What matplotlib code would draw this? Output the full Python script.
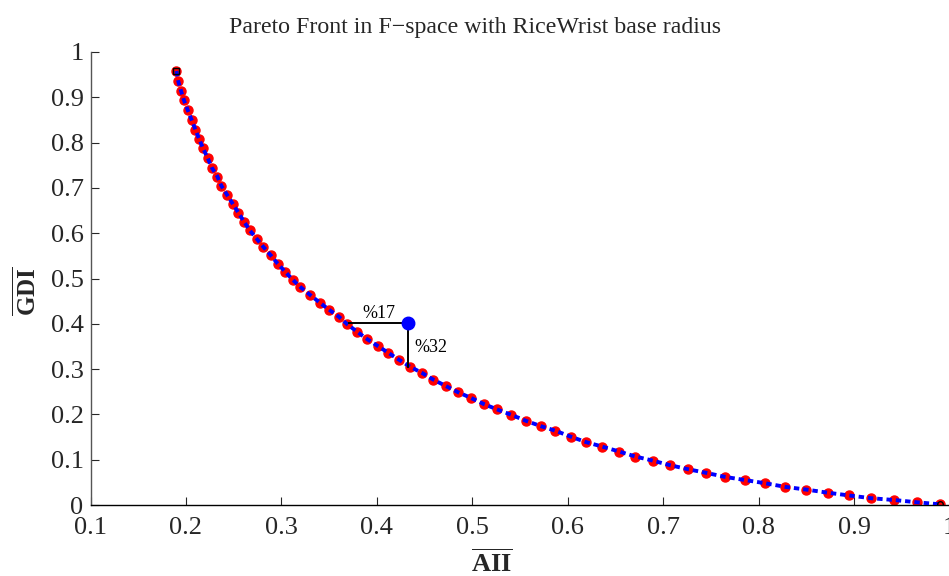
import numpy as np
import matplotlib
matplotlib.use("Agg")
import matplotlib.pyplot as plt

plt.rcParams['font.family'] = ['Liberation Serif', 'DejaVu Serif']
plt.rcParams['mathtext.fontset'] = 'custom'
plt.rcParams['mathtext.rm'] = 'Liberation Serif'
plt.rcParams['mathtext.bf'] = 'Liberation Serif:bold'

# Pareto front points (AII, GDI)
aii = [0.190, 0.192, 0.195, 0.198, 0.202, 0.206, 0.210, 0.214, 0.218, 0.223,
       0.227, 0.233, 0.237, 0.243, 0.249, 0.255, 0.261, 0.267, 0.274, 0.281,
       0.289, 0.296, 0.304, 0.312, 0.320, 0.330, 0.340, 0.350, 0.360, 0.369,
       0.379, 0.390, 0.401, 0.412, 0.423, 0.435, 0.447, 0.459, 0.472, 0.485,
       0.499, 0.512, 0.526, 0.541, 0.556, 0.572, 0.587, 0.603, 0.619, 0.636,
       0.654, 0.671, 0.689, 0.707, 0.726, 0.745, 0.765, 0.786, 0.807, 0.828,
       0.850, 0.873, 0.895, 0.918, 0.942, 0.966, 0.990]
gdi = [0.958, 0.935, 0.913, 0.893, 0.871, 0.850, 0.828, 0.807, 0.787, 0.765,
       0.745, 0.725, 0.705, 0.685, 0.665, 0.645, 0.625, 0.606, 0.588, 0.570,
       0.551, 0.533, 0.515, 0.497, 0.481, 0.464, 0.447, 0.431, 0.416, 0.399,
       0.383, 0.366, 0.351, 0.336, 0.321, 0.305, 0.292, 0.277, 0.263, 0.249,
       0.236, 0.223, 0.211, 0.199, 0.186, 0.174, 0.164, 0.151, 0.139, 0.129,
       0.118, 0.107, 0.098, 0.088, 0.079, 0.071, 0.062, 0.055, 0.048, 0.040,
       0.034, 0.027, 0.021, 0.015, 0.011, 0.006, 0.0015]

# current design (RiceWrist base radius) and its projections on the front
design = (0.433, 0.401)
proj_x = 0.371   # front point at same GDI
proj_y = 0.305   # front point at same AII
label_h = '%17'
label_v = '%32'

xticks = [0.1, 0.2, 0.3, 0.4, 0.5, 0.6, 0.7, 0.8, 0.9, 1.0]
xticklabels = ['0.1', '0.2', '0.3', '0.4', '0.5', '0.6', '0.7', '0.8', '0.9', '1']
yticks = [0, 0.1, 0.2, 0.3, 0.4, 0.5, 0.6, 0.7, 0.8, 0.9, 1.0]
yticklabels = ['0', '0.1', '0.2', '0.3', '0.4', '0.5', '0.6', '0.7', '0.8', '0.9', '1']

fig = plt.figure(figsize=(9.49, 5.76), dpi=100)
ax = fig.add_axes([90.5/949, 71/576, (949.5-90.5)/949, 453/576])

axcol = '#262626'

# front: red markers, blue dotted line on top
ax.plot(aii, gdi, 'o', color='red', ms=6.5, mec='red', zorder=2)
ax.plot(aii, gdi, color='blue', lw=2.8, dashes=(1.4, 1.0), zorder=3)
ax.plot(aii[0], gdi[0], 's', mfc='none', mec='k', ms=4, mew=1, zorder=4)
ax.plot(aii[-1], gdi[-1], 'o', mfc='none', mec='k', ms=4, mew=1, zorder=4)

# distance lines to the front
ax.plot([proj_x, design[0]], [design[1], design[1]], color='k', lw=1.4, zorder=4)
ax.plot([design[0], design[0]], [design[1], proj_y], color='k', lw=1.4, zorder=4)
ax.plot(design[0], design[1], 'o', color='blue', ms=9, zorder=5)
ax.text((proj_x + design[0]) / 2, design[1] + 0.004, label_h, fontsize=13,
        ha='center', va='bottom')
ax.text(design[0] + 0.006, (design[1] + proj_y) / 2 - 0.006, label_v, fontsize=13,
        ha='left', va='center')

ax.set_xlim(0.1, 1.0)
ax.set_ylim(0, 1.0)
ax.set_xticks(xticks)
ax.set_xticklabels(xticklabels)
ax.set_yticks(yticks)
ax.set_yticklabels(yticklabels)
ax.tick_params(direction='in', length=6, width=0.8, colors=axcol,
               labelsize=19, labelcolor=axcol)
ax.tick_params(axis='x', pad=9)
ax.tick_params(axis='y', pad=5)
for s in ['top', 'right']:
    ax.spines[s].set_visible(False)
ax.spines['left'].set_color('#555555')
ax.spines['bottom'].set_color('k')
ax.spines['left'].set_linewidth(1.0)
ax.spines['bottom'].set_linewidth(1.0)

ax.set_title('Pareto Front in F\u2212space with RiceWrist base radius',
             fontsize=17.2, color=axcol, x=(475 - 90.5) / 859, pad=14)
ax.set_xlabel(r'$\overline{\mathbf{AII}}$', fontsize=19, color=axcol)
ax.xaxis.set_label_coords((492 - 90.5) / 859, -0.098)
ax.set_ylabel(r'$\overline{\mathbf{GDI}}$', fontsize=18, color=axcol)
ax.yaxis.set_label_coords(-0.058, 0.471)

fig.savefig('out.png', dpi=100)
